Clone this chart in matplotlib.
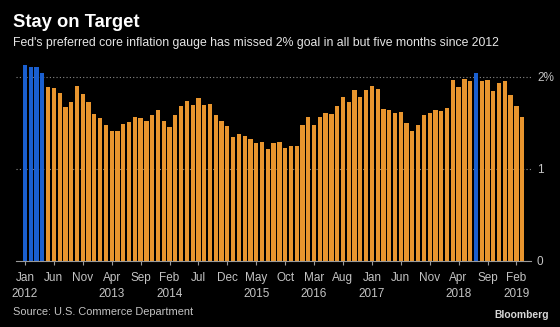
import matplotlib
matplotlib.use("Agg")
import matplotlib.pyplot as plt
import numpy as np
import pandas as pd

# core PCE price index, % change y/y, monthly Jan 2012 - Mar 2019
months = pd.period_range("2012-01", "2019-03", freq="M")
core_pce = [
    2.13, 2.10, 2.10, 2.04, 1.89, 1.88, 1.82, 1.67, 1.72, 1.90, 1.81, 1.72,  # 2012
    1.59, 1.55, 1.48, 1.41, 1.41, 1.49, 1.51, 1.56, 1.55, 1.52, 1.58, 1.64,  # 2013
    1.52, 1.45, 1.58, 1.68, 1.74, 1.69, 1.77, 1.69, 1.70, 1.58, 1.52, 1.46,  # 2014
    1.34, 1.38, 1.35, 1.32, 1.28, 1.29, 1.21, 1.28, 1.29, 1.22, 1.25, 1.25,  # 2015
    1.47, 1.56, 1.47, 1.56, 1.60, 1.59, 1.68, 1.78, 1.72, 1.86, 1.78, 1.86,  # 2016
    1.90, 1.87, 1.65, 1.64, 1.60, 1.62, 1.50, 1.41, 1.47, 1.58, 1.60, 1.64,  # 2017
    1.63, 1.66, 1.96, 1.89, 1.98, 1.95, 2.04, 1.95, 1.96, 1.84, 1.93, 1.95,  # 2018
    1.80, 1.68, 1.56,                                                        # 2019
]
target = 2.0

tick_every = 5
ytick_vals = [0, 1, 2]
ytick_labels = ["0", "1", "2%"]

title = "Stay on Target"
subtitle = ("Fed's preferred core inflation gauge has missed 2% goal "
            "in all but five months since 2012")
source = "Source: U.S. Commerce Department"

orange = "#e8952e"
blue = "#1a5fd0"
grey_txt = "#c4c4c4"

plt.rcParams["font.family"] = ["Liberation Sans", "DejaVu Sans"]

fig = plt.figure(figsize=(5.6, 3.27), dpi=100, facecolor="black")
ax = fig.add_axes([0.0286, 0.2028, 0.9204, 0.619], facecolor="black")

x = np.arange(len(core_pce))
vals = np.array(core_pce)
colors = [blue if v >= target else orange for v in vals]
ax.bar(x, vals, width=0.74, color=colors, zorder=2)

ax.set_xlim(-1.55, len(core_pce) + 0.6)
ax.set_ylim(0, 2.2)

# gridlines at 1 and 2
for yv in ytick_vals[1:]:
    ax.axhline(yv, color="#8a8a8a", lw=0.8, ls=(0, (1, 2)), zorder=1)

ax.yaxis.tick_right()
ax.set_yticks(ytick_vals)
ax.set_yticklabels(ytick_labels)
ax.tick_params(axis="y", length=0, pad=4, labelsize=8.5, labelcolor=grey_txt)

# x ticks every five months, year added on the first tick of each year
tpos = x[::tick_every]
tlabels = []
seen = set()
for p in tpos:
    m = months[p]
    lab = m.strftime("%b")
    if m.year not in seen:
        seen.add(m.year)
        lab += "\n" + str(m.year)
    else:
        lab += "\n "
    tlabels.append(lab)
ax.set_xticks(tpos)
ax.set_xticklabels(tlabels, linespacing=1.5)
ax.tick_params(axis="x", length=3, width=0.8, color="#9a9a9a", pad=5,
               labelsize=8.5, labelcolor=grey_txt)

for s in ["top", "left", "right"]:
    ax.spines[s].set_visible(False)
ax.spines["bottom"].set_color("#9a9a9a")
ax.spines["bottom"].set_linewidth(0.8)
ax.spines["bottom"].set_zorder(3)

fig.text(0.023, 0.93, title, color="white", fontsize=13.2, fontweight="bold",
         va="center", ha="left")
fig.text(0.023, 0.868, subtitle, color="#e6e6e6", fontsize=8.85,
         va="center", ha="left")
fig.text(0.023, 0.046, source, color=grey_txt, fontsize=7.95,
         va="center", ha="left")
fig.text(0.981, 0.037, "Bloomberg", color="#d8d8d8", fontsize=7.4,
         fontweight="bold", va="center", ha="right")

fig.savefig("out.png", dpi=100, facecolor="black")
